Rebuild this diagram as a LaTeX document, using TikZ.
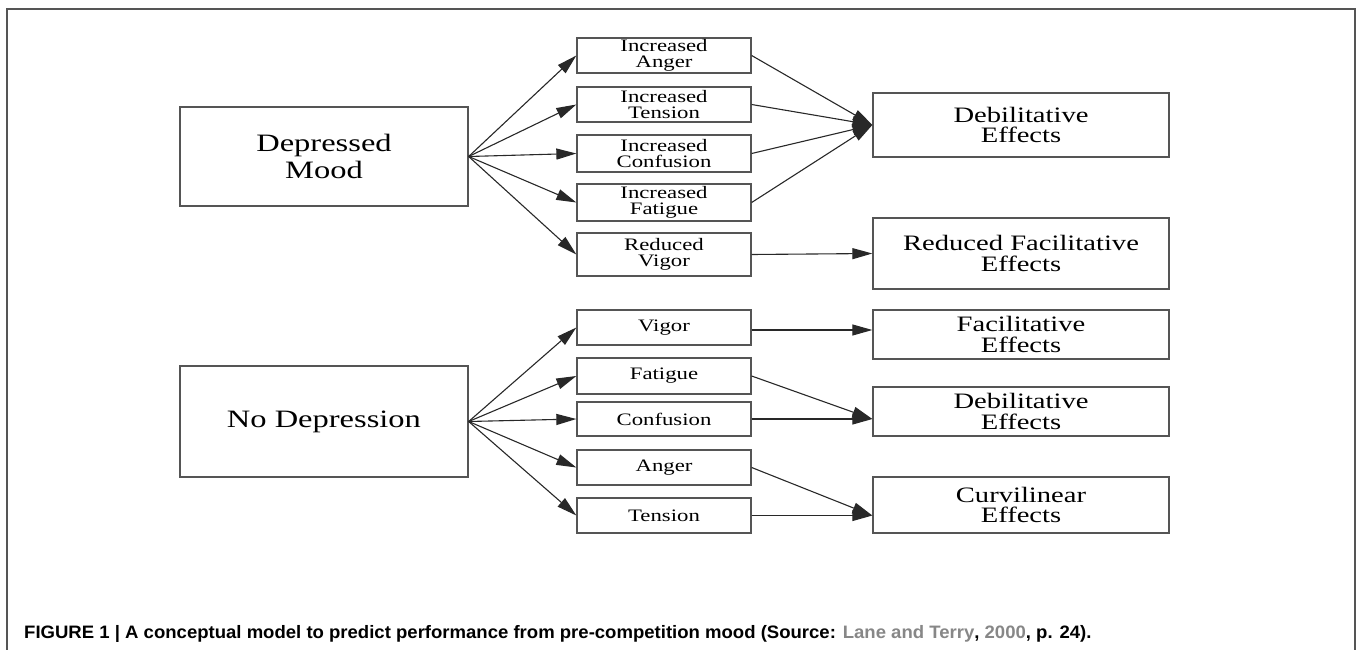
\documentclass[tikz,border=0pt]{standalone}
\usepackage{fontspec}
\usepackage{tikz}
\usetikzlibrary{arrows.meta}
\newfontfamily\diagfont[FakeStretch=1.3]{Liberation Serif}
\newfontfamily\capfont[FakeStretch=1.03]{Liberation Sans}
\definecolor{linegray}{RGB}{40,40,40}
\definecolor{boxgray}{RGB}{85,85,85}
\definecolor{srcgray}{RGB}{135,135,135}
\tikzset{
  moodbox/.style={shape=rectangle,draw=boxgray,line width=1.3pt,minimum width=288pt,align=center,
    font=\diagfont\fontsize{25}{27}\selectfont},
  scalebox/.style={shape=rectangle,draw=boxgray,line width=1.3pt,minimum width=174pt,minimum height=35pt,
    inner sep=0pt,align=center,font=\diagfont\fontsize{17.5}{16}\selectfont},
  effectbox/.style={shape=rectangle,draw=boxgray,line width=1.3pt,minimum width=296pt,inner sep=0pt,
    align=center,font=\diagfont\fontsize{22}{20.5}\selectfont},
  flow/.style={->,linegray,line width=1.1pt},
  >={Triangle[length=20pt,width=11pt]}
}
\begin{document}
\begin{tikzpicture}[x=1pt,y=-1pt]
                \useasboundingbox (0,0) rectangle (1357,650);
                \draw[boxgray,line width=1.5pt] (7,652) -- (7,9) -- (1355,9) -- (1355,652);

                \node[moodbox,minimum height=99pt] (D) at (324,156.5) {Depressed\\Mood};
                \node[moodbox,minimum height=111pt] (N) at (324,421.5) {No Depression};

                \node[scalebox] (IA) at (664,55.5) {Increased\\Anger};
                \node[scalebox] (IT) at (664,104.5) {Increased\\Tension};
                \node[scalebox,minimum height=37pt] (IC) at (664,153.5) {Increased\\Confusion};
                \node[scalebox,minimum height=37pt] (IF) at (664,202.5) {Increased\\Fatigue};
                \node[scalebox,minimum height=43pt] (RV) at (664,254.5) {Reduced\\Vigor};
                \node[scalebox] (V) at (664,327.5) {Vigor};
                \node[scalebox,minimum height=36pt] (F) at (664,376) {Fatigue};
                \node[scalebox,minimum height=34pt] (C) at (664,419) {Confusion};
                \node[scalebox] (A) at (664,467.5) {Anger};
                \node[scalebox] (T) at (664,515.5) {Tension};

                \node[effectbox,minimum height=64pt] (DE1) at (1021,125) {Debilitative\\Effects};
                \node[effectbox,minimum height=71pt] (RF) at (1021,253.5) {Reduced Facilitative\\Effects};
                \node[effectbox,minimum height=49pt] (FE) at (1021,334.5) {Facilitative\\Effects};
                \node[effectbox,minimum height=49pt] (DE2) at (1021,411.5) {Debilitative\\Effects};
                \node[effectbox,minimum height=56pt] (CE) at (1021,505) {Curvilinear\\Effects};

                % shared arrow ends
                \coordinate (DE2in) at (DE2.west |- C.east);
                \coordinate (CEin) at (CE.west |- T.east);
                \coordinate (FEin) at (FE.west |- 0,330);

                \path [flow](D.east) edge (IA.west);
                \path [flow](D.east) edge (IT.west);
                \path [flow](D.east) edge (IC.west);
                \path [flow](D.east) edge (IF.west);
                \path [flow](D.east) edge (RV.west);

                \path [flow](IA.east) edge (DE1.west);
                \path [flow](IT.east) edge (DE1.west);
                \path [flow](IC.east) edge (DE1.west);
                \path [flow](IF.east) edge (DE1.west);
                \path [flow](RV.east) edge (RF.west);

                \path [flow](N.east) edge (V.west);
                \path [flow](N.east) edge (F.west);
                \path [flow](N.east) edge (C.west);
                \path [flow](N.east) edge (A.west);
                \path [flow](N.east) edge (T.west);

                \path [flow](V.east |- FEin) edge (FEin);
                \path [flow](F.east) edge (DE2in);
                \path [flow](C.east) edge (DE2in);
                \path [flow](A.east) edge (CEin);
                \path [flow](T.east) edge (CEin);

                \node[anchor=base west,inner sep=0pt,font=\capfont\bfseries\fontsize{18}{20}\selectfont] (cap) at (24,638)
                  {FIGURE 1 | A conceptual model to predict performance from pre-competition mood (Source: \textcolor{srcgray}{Lane and Terry}, \textcolor{srcgray}{2000}, p. 24).};
            \end{tikzpicture}
\end{document}
